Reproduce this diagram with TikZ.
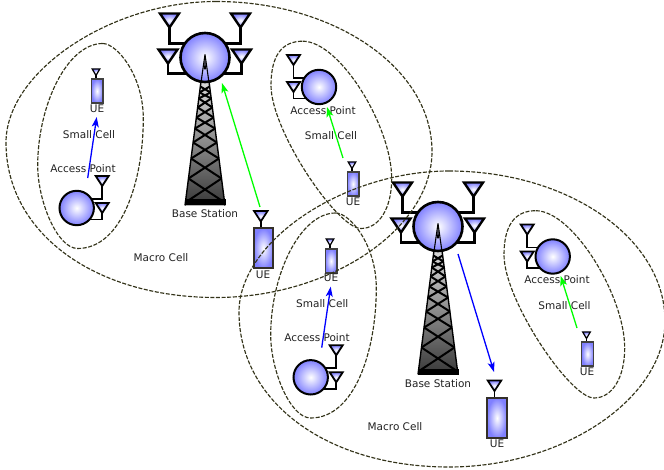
\documentclass[tikz,border=0pt]{standalone}
\usepackage{fontspec}
\setmainfont{DejaVu Sans}
\usetikzlibrary{arrows.meta}
\definecolor{bluefill}{HTML}{8080FF}
\definecolor{celldash}{HTML}{333319}
\definecolor{txt}{HTML}{222222}
\tikzset{
  lbl/.style={font=\fontsize{10.5}{12}\selectfont,text=txt,inner sep=0pt},
  cell/.style={draw=celldash,line width=1.15pt,dash pattern=on 4pt off 1.6pt},
  orb/.style={draw=black,inner color=white,outer color=bluefill},
  ant/.style={line width=#1,draw=black,inner color=white,outer color=bluefill,line join=miter},
  wire/.style={line width=#1,draw=black},
  arr/.style={line width=1.3pt,-{Stealth[length=10pt,width=7pt,inset=2.5pt]}},
}
\newcommand{\Ant}[5]{%
  \shade[ant=#5] (#1-#3,#2) -- (#1+#3,#2) -- (#1,#2+#4) -- cycle;}
\newcommand{\BS}[2]{%
 \begin{scope}[shift={(#1,#2)}]
  \draw[wire=2.4pt] (-35.5,-31) -- (-35.5,-14) -- (-14,-14);
  \draw[wire=2.4pt] (35.5,-31) -- (35.5,-14) -- (14,-14);
  \draw[wire=2.4pt] (-37,6) -- (-37,16) -- (-18,16);
  \draw[wire=2.4pt] (36.5,6) -- (36.5,16) -- (18,16);
  \Ant{-35.5}{-44}{9.5}{14}{2.4pt}
  \Ant{35.5}{-44}{9.5}{14}{2.4pt}
  \Ant{-37}{-8}{9.5}{14}{2.4pt}
  \Ant{36.5}{-8}{9.5}{14}{2.4pt}
  \shade[top color=black!15,bottom color=black!78] (-4,24) -- (4,24) -- (20,148) -- (-20,148) -- cycle;
  \foreach \a/\b in {29/35,35/41,41/50,50/60,60/71,71/85,85/101,101/121,121/145}{
    \pgfmathsetmacro{\wa}{4+(\a-24)*16/124}
    \pgfmathsetmacro{\wb}{4+(\b-24)*16/124}
    \draw[line width=2pt,line join=round] (-\wa,\a) -- (\wb,\b) (\wa,\a) -- (-\wb,\b);
  }
  \draw[line width=1.4pt] (-4,24) -- (-20,148) (4,24) -- (20,148);
  \fill[black] (-20.5,142) rectangle (20.5,148);
  \shade[orb,line width=2.6pt] (0,0) circle (24.5);
  \fill[black] (0,-3) -- (-1,12) -- (1,12) -- cycle;
  \draw[line width=1.1pt] (0,-3) -- (-4,25) (0,-3) -- (4,25);
 \end{scope}}
\newcommand{\AP}[3]{%
 \begin{scope}[shift={(#1,#2)},xscale=#3]
  \draw[wire=1.9pt] (25.5,-24) -- (25.5,-9) -- (13,-9);
  \draw[wire=1.9pt] (25.5,2) -- (25.5,11.5) -- (13,11.5);
  \Ant{25.5}{-32}{6.5}{10}{1.8pt}
  \Ant{25.5}{-5}{6.5}{10}{1.8pt}
  \shade[orb,line width=2pt] (0,0) circle (17.2);
 \end{scope}}
\newcommand{\SmallUE}[2]{%
 \begin{scope}[shift={(#1,#2)}]
  \draw[line width=1.2pt] (-1,-4) -- (-1,0);
  \Ant{-1}{-10}{3.8}{6.5}{1.2pt}
  \shade[inner color=white,outer color=bluefill] (-5.8,0) rectangle (5.8,24);
  \draw[line width=1.4pt,draw=black!75] (-5.8,0) rectangle (5.8,24);
 \end{scope}}
\newcommand{\BigUE}[2]{%
 \begin{scope}[shift={(#1,#2)}]
  \draw[line width=1.6pt] (-2.5,-8) -- (-2.5,0);
  \Ant{-2.5}{-17.5}{6.8}{10.5}{1.7pt}
  \shade[inner color=white,outer color=bluefill] (-9.7,0) rectangle (9.7,40);
  \draw[line width=2pt,draw=black!85!olive] (-9.7,0) rectangle (9.7,40);
 \end{scope}}
\newcommand{\MacroShape}{(449,171) .. controls (568,171) and (665,238) .. (665,321) .. controls (665,398) and (564,467) .. (449,467) .. controls (327,467) and (239,402) .. (239,312) .. controls (239,241) and (344,171) .. (449,171) -- cycle}
\newcommand{\PearShape}{(535.7,210.7) .. controls (573,210.7) and (624.7,296) .. (624.7,348) .. controls (624.7,378) and (612,398) .. (594,398) .. controls (570,398) and (504,300) .. (504,255) .. controls (504,225) and (515,210.7) .. (535.7,210.7) -- cycle}
\newcommand{\LeafShape}{(335.7,213) .. controls (350,213) and (376.3,245) .. (376.3,288) .. controls (376.3,350) and (355,418) .. (310.7,418) .. controls (290,418) and (270.7,370) .. (270.7,335) .. controls (270.7,275) and (300,213) .. (335.7,213) -- cycle}
\begin{document}
\begin{tikzpicture}[x=1pt,y=-1pt]
\useasboundingbox (0,0) rectangle (664,470);
\fill[white] (0,0) rectangle (664,470);
\BS{205}{57.5}
\BS{438}{226.5}
\AP{76.7}{208}{1}
\AP{310.7}{377.3}{1}
\AP{319}{87}{-1}
\AP{552.7}{256.5}{-1}
\SmallUE{97}{79}
\SmallUE{353}{172}
\SmallUE{331}{249}
\SmallUE{587.5}{342}
\BigUE{263.3}{228.5}
\BigUE{497}{398}
\begin{scope}
\clip (0,0) rectangle (664,470);
\draw[cell] \MacroShape;
\draw[cell,shift={(-233,-169.5)}] \MacroShape;
\draw[cell] \PearShape;
\draw[cell,shift={(-233,-169.5)}] \PearShape;
\draw[cell] \LeafShape;
\draw[cell,shift={(-233,-169.5)}] \LeafShape;
\end{scope}
\node[lbl] (bsa) at (205,214) {Base Station};
\node[lbl] (bsb) at (438,384) {Base Station};
\node[lbl] (mca) at (161,258) {Macro Cell};
\node[lbl] (mcb) at (395,427) {Macro Cell};
\node[lbl] (apa) at (83,169) {Access Point};
\node[lbl] (apb) at (317,338) {Access Point};
\node[lbl] (apc) at (323,111) {Access Point};
\node[lbl] (apd) at (557,280) {Access Point};
\node[lbl] (sca) at (89,135) {Small Cell};
\node[lbl] (scb) at (322.3,304) {Small Cell};
\node[lbl] (scc) at (331,136) {Small Cell};
\node[lbl] (scd) at (564.5,306) {Small Cell};
\node[lbl] (uea) at (97,109) {UE};
\node[lbl] (ueb) at (353,202) {UE};
\node[lbl] (uec) at (331,278) {UE};
\node[lbl] (ued) at (587,372) {UE};
\node[lbl] (uee) at (263,275) {UE};
\node[lbl] (uef) at (497,444) {UE};
\coordinate (g1s) at (260,207); \coordinate (g1e) at (222,83);
\coordinate (g2s) at (343,158); \coordinate (g2e) at (327,107);
\coordinate (g3s) at (577,328); \coordinate (g3e) at (560.7,276);
\coordinate (b1s) at (87.7,178); \coordinate (b1e) at (96.7,117);
\coordinate (b2s) at (321.7,347.7); \coordinate (b2e) at (330.7,286.7);
\coordinate (b3s) at (458,254); \coordinate (b3e) at (494,372);
\draw[arr,green] (g1s) -- (g1e);
\draw[arr,green] (g2s) -- (g2e);
\draw[arr,green] (g3s) -- (g3e);
\draw[arr,blue] (b1s) -- (b1e);
\draw[arr,blue] (b2s) -- (b2e);
\draw[arr,blue] (b3s) -- (b3e);
\end{tikzpicture}
\end{document}
